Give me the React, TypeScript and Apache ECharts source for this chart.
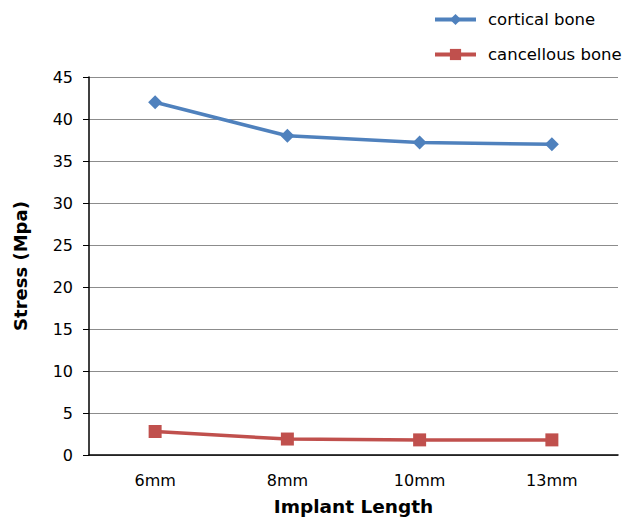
import React, { useEffect, useRef } from "react";
import * as echarts from "echarts";

const categories = ["6mm", "8mm", "10mm", "13mm"];
const corticalBone = [42, 38, 37.2, 37];
const cancellousBone = [2.8, 1.9, 1.8, 1.8];

const FONT = "'DejaVu Sans', 'Liberation Sans', Arial, sans-serif";

export default function App() {
  const ref = useRef<HTMLDivElement>(null);

  useEffect(() => {
    if (!ref.current) return;
    const chart = echarts.init(ref.current, undefined, { renderer: "svg" });
    chart.setOption({
      animation: false,
      backgroundColor: "#ffffff",
      textStyle: { fontFamily: FONT },
      legend: {
        orient: "vertical",
        left: 428,
        top: 6,
        itemWidth: 41,
        itemHeight: 14,
        itemGap: 18,
        lineStyle: { width: 4 },
        textStyle: { fontSize: 16.5, color: "#000", fontFamily: FONT, padding: [0, 0, 0, 7] },
        data: ["cortical bone", "cancellous bone"],
      },
      grid: { left: 89, right: 10, top: 77, bottom: 66, containLabel: false },
      xAxis: {
        type: "category",
        data: categories,
        name: "Implant Length",
        nameLocation: "middle",
        nameGap: 42,
        nameTextStyle: { fontSize: 18.5, fontWeight: "bold", color: "#000", fontFamily: FONT },
        axisLine: { lineStyle: { color: "#000", width: 1.5 } },
        axisTick: { show: false },
        axisLabel: { fontSize: 16, color: "#000", margin: 17, fontFamily: FONT },
      },
      yAxis: {
        type: "value",
        min: 0,
        max: 45,
        interval: 5,
        name: "Stress (Mpa)",
        nameLocation: "middle",
        nameGap: 60,
        nameTextStyle: { fontSize: 18, fontWeight: "bold", color: "#000", fontFamily: FONT },
        axisLine: { show: true, lineStyle: { color: "#000", width: 1.5 } },
        axisTick: { show: true, inside: false, length: 6, lineStyle: { color: "#000" } },
        axisLabel: { fontSize: 16, color: "#000", margin: 16, fontFamily: FONT },
        splitLine: { lineStyle: { color: "#8c8c8c", width: 1 } },
      },
      series: [
        {
          name: "cortical bone",
          type: "line",
          data: corticalBone,
          symbol: "diamond",
          symbolSize: 14,
          itemStyle: { color: "#4F81BD" },
          lineStyle: { color: "#4F81BD", width: 3.5 },
        },
        {
          name: "cancellous bone",
          type: "line",
          data: cancellousBone,
          symbol: "rect",
          symbolSize: 13,
          itemStyle: { color: "#C0504D" },
          lineStyle: { color: "#C0504D", width: 3.5 },
        },
      ],
    });
    return () => chart.dispose();
  }, []);

  return <div ref={ref} style={{ width: 628, height: 521, position: "absolute", left: 0, top: 0 }} />;
}
